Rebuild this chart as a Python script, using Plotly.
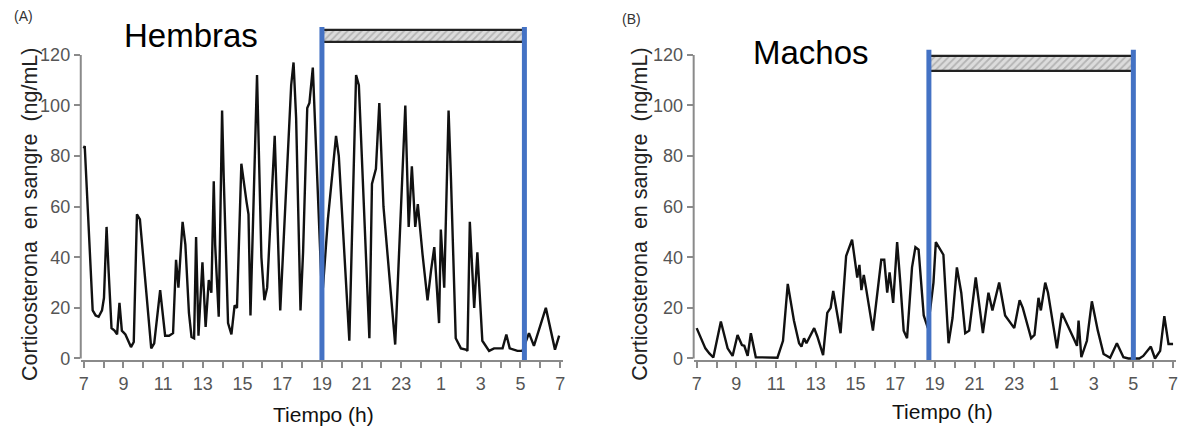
import plotly.graph_objects as go

# ---------------- data ----------------
# time in hours from 7:00 (7) to 7:00 next day (31)
hembras_t = [7.0, 7.05, 7.45, 7.6, 7.75, 7.92, 8.02, 8.15, 8.25, 8.4, 8.55, 8.68, 8.8, 8.92, 9.1, 9.25,
             9.38, 9.52, 9.68, 9.83, 10.1, 10.4, 10.55, 10.85, 11.1, 11.3, 11.5, 11.65, 11.77, 11.98,
             12.12, 12.3, 12.43, 12.56, 12.66, 12.78, 12.98, 13.14, 13.3, 13.43, 13.55, 13.62, 13.8,
             13.97, 14.05, 14.27, 14.44, 14.6, 14.72, 14.94, 15.2, 15.3, 15.4, 15.73, 15.95, 16.1,
             16.24, 16.62, 16.9, 17.17, 17.45, 17.57, 17.7, 17.92, 18.05, 18.26, 18.37, 18.54, 18.62,
             19.0, 19.05, 19.3, 19.71, 19.85, 20.38, 20.72, 20.86, 21.39, 21.52, 21.72, 21.89, 22.1,
             22.69, 23.2, 23.37, 23.53, 23.7, 23.83, 24.07, 24.32, 24.5, 24.66, 24.9, 24.99, 25.16,
             25.38, 25.5, 25.74, 26.0, 26.25, 26.33, 26.45, 26.67, 26.83, 27.08, 27.42, 27.67, 28.1,
             28.29, 28.46, 28.85, 29.1, 29.43, 29.68, 30.28, 30.74, 30.95]
hembras_v = [83, 84, 19, 17, 16.5, 19, 24, 52, 35, 12, 11, 9.5, 22, 11, 9.5, 7,
             4.5, 6.5, 57, 55, 30, 4, 6, 27, 9, 9, 10, 39, 28, 54,
             45, 18, 8.5, 8, 48, 9, 38, 12.5, 31, 26, 70, 45, 16.5,
             98, 72, 14, 9.5, 21, 20, 77, 62, 57, 17, 112, 40, 23,
             28, 88, 19, 60, 108, 117, 95, 19, 42, 99, 101, 115, 100,
             25, 28, 55, 88, 80, 7, 112, 108, 8, 69, 75, 101, 60,
             5.5, 100, 52, 76, 52, 61, 41, 23, 35, 44, 14, 51, 28,
             98, 71, 8, 4, 3.5, 3, 54, 20, 42, 7, 3, 4, 4,
             9.5, 4, 3, 3, 10, 5, 20, 3.5, 9]

machos_t = [7.0, 7.27, 7.44, 7.64, 7.84, 8.22, 8.56, 8.81, 9.06, 9.28, 9.4, 9.57, 9.73, 9.98, 10.5,
            11.07, 11.35, 11.59, 11.9, 12.16, 12.28, 12.41, 12.53, 12.92, 13.08, 13.37, 13.58, 13.75,
            13.88, 14.08, 14.25, 14.53, 14.83, 15.09, 15.2, 15.3, 15.42, 15.55, 15.88, 16.3, 16.45,
            16.6, 16.72, 16.9, 17.1, 17.26, 17.43, 17.6, 17.85, 18.02, 18.18, 18.44, 18.65, 18.93,
            19.05, 19.43, 19.69, 19.89, 20.11, 20.33, 20.53, 20.73, 21.06, 21.42, 21.7, 21.9, 22.04,
            22.24, 22.54, 22.88, 23.0, 23.27, 23.43, 23.85, 24.02, 24.22, 24.34, 24.56, 24.7, 25.15,
            25.4, 25.99, 26.16, 26.24, 26.38, 26.66, 26.91, 27.21, 27.5, 27.83, 28.17, 28.5, 28.75,
            29.3, 29.5, 29.88, 30.09, 30.35, 30.56, 30.77, 31.0]
machos_v = [12, 7, 4, 2, 0.4, 14.6, 4, 1, 9.3, 5.3, 5, 1, 10, 0.5, 0.3,
            0.3, 7, 29.5, 15, 6, 4.7, 8, 6, 12, 8.7, 1.3, 18, 20,
            26.7, 18, 10, 40.5, 47, 32, 37, 27, 33, 27, 11, 39, 39,
            26, 34, 22, 46, 30, 11, 8, 36, 44, 43, 17, 12, 30,
            46, 41, 6, 16, 36, 26, 10, 11, 32, 10, 26, 19, 24,
            30, 17, 13, 12, 23, 20, 8, 9.3, 24, 19, 30, 26, 4,
            18, 8, 5, 15, 0.5, 7, 22.6, 11, 1.8, 0.3, 6, 0.5, 0,
            0, 1, 4.7, 0, 3, 16.7, 5.7, 5.7]

tick_hours = list(range(7, 32))
tick_labels = ["7", "9", "11", "13", "15", "17", "19", "21", "23", "1", "3", "5", "7"]
y_ticks = [0, 20, 40, 60, 80, 100, 120]

# dark period (start, end in hours) and its bar levels
dark_A = [19.0, 29.2]
dark_B = [18.7, 29.0]
bar_A = [125, 130]
bar_B = [113.5, 119.5]
line_top_A = 131
line_top_B = 122

# ---------------- figure ----------------
BLUE = "#4472C4"
GRAY = "#8a8a8a"
TICKFONT = dict(family="Liberation Sans Narrow, Arial Narrow, Liberation Sans, Arial", size=18, color="#555555")

OFF = 8                      # page body margin of the html page
W, H = 1188 - OFF, 430 - OFF
MT, MB = 22 - OFF, 70
PLOT_H = H - MT - MB


def px(x):
    return (x - OFF) / W


def py(y):
    return (H - MB - (y - OFF)) / PLOT_H


ticktext_full = []
k = 0
for h in tick_hours:
    if (h - 7) % 2 == 0:
        ticktext_full.append(tick_labels[k]); k += 1
    else:
        ticktext_full.append("")

fig = go.Figure()

for xa, ya, t, v, dark, bar in [("x", "y", hembras_t, hembras_v, dark_A, bar_A),
                                ("x2", "y2", machos_t, machos_v, dark_B, bar_B)]:
    fig.add_trace(go.Scatter(x=t, y=v, mode="lines", xaxis=xa, yaxis=ya,
                             line=dict(color="#111111", width=2.4), showlegend=False, hoverinfo="skip"))
    fig.add_trace(go.Bar(x=[(dark[0] + dark[1]) / 2], y=[bar[1] - bar[0]], base=[bar[0]],
                         width=[dark[1] - dark[0]], xaxis=xa, yaxis=ya, showlegend=False,
                         marker=dict(color="#d4d4d4",
                                     pattern=dict(shape="/", fgcolor="#8c8c8c", bgcolor="#dcdcdc",
                                                  size=5, solidity=0.35),
                                     line=dict(color="#222222", width=2.2)),
                         hoverinfo="skip"))


def xaxis_cfg(domain):
    return dict(domain=domain, range=[6.85, 31.15], tickmode="array", tickvals=tick_hours,
                ticktext=ticktext_full, ticks="outside", ticklen=6, tickwidth=1.5, tickcolor=GRAY,
                showline=True, linecolor=GRAY, linewidth=2, showgrid=False, zeroline=False,
                tickfont=TICKFONT, fixedrange=True)


def yaxis_cfg(anchor):
    return dict(domain=[0, 1], range=[-0.6, 133], anchor=anchor, tickmode="array", tickvals=y_ticks,
                ticks="outside", ticklen=6, tickwidth=1.5, tickcolor=GRAY, showline=False,
                showgrid=False, zeroline=False, tickfont=TICKFONT, fixedrange=True)


fig.update_layout(
    width=W, height=H,
    margin=dict(l=0, r=0, t=MT, b=MB, pad=0),
    paper_bgcolor="white", plot_bgcolor="white",
    xaxis=dict(xaxis_cfg([px(79), px(563)]), anchor="y"),
    yaxis=yaxis_cfg("x"),
    xaxis2=dict(xaxis_cfg([px(694), px(1178)]), anchor="y2"),
    yaxis2=yaxis_cfg("x2"),
    bargap=0,
)

shapes = []
for xr, yr, dark, top in [("x", "y", dark_A, line_top_A), ("x2", "y2", dark_B, line_top_B)]:
    shapes.append(dict(type="line", xref=xr + " domain", yref=yr, x0=0, x1=0, y0=0, y1=120,
                       line=dict(color=GRAY, width=2)))
    for xv in dark:
        shapes.append(dict(type="line", xref=xr, yref=yr, x0=xv, x1=xv, y0=-1, y1=top,
                           line=dict(color=BLUE, width=5)))
fig.update_layout(shapes=shapes)

TXT = "Liberation Sans, Arial, sans-serif"
annotations = []
for t, x, y in [("Hembras", 190, 36), ("Machos", 812, 52)]:
    annotations.append(dict(text=t, xref="paper", yref="paper", x=px(x), y=py(y),
                            showarrow=False, xanchor="center", yanchor="middle",
                            font=dict(family=TXT, size=33, color="#000000")))
for x, y in [(323, 414), (944, 411)]:
    annotations.append(dict(text="Tiempo (h)", xref="paper", yref="paper", x=px(x), y=py(y),
                            showarrow=False, xanchor="center", yanchor="middle",
                            font=dict(family=TXT, size=21, color="#111111")))
for x, y in [(28, 214), (640, 214)]:
    annotations.append(dict(text="Corticosterona  en sangre  (ng/mL)", xref="paper", yref="paper",
                            x=px(x), y=py(y), textangle=-90,
                            showarrow=False, xanchor="center", yanchor="middle",
                            font=dict(family=TXT, size=21.5, color="#222222")))
for t, x, y in [("(A)", 22, 16), ("(B)", 632, 19)]:
    annotations.append(dict(text=t, xref="paper", yref="paper", x=px(x), y=py(y),
                            showarrow=False, xanchor="center", yanchor="middle",
                            font=dict(family="Liberation Sans Narrow, Liberation Sans", size=14, color="#333333")))
fig.update_layout(annotations=annotations)

fig.write_html("out.html")
